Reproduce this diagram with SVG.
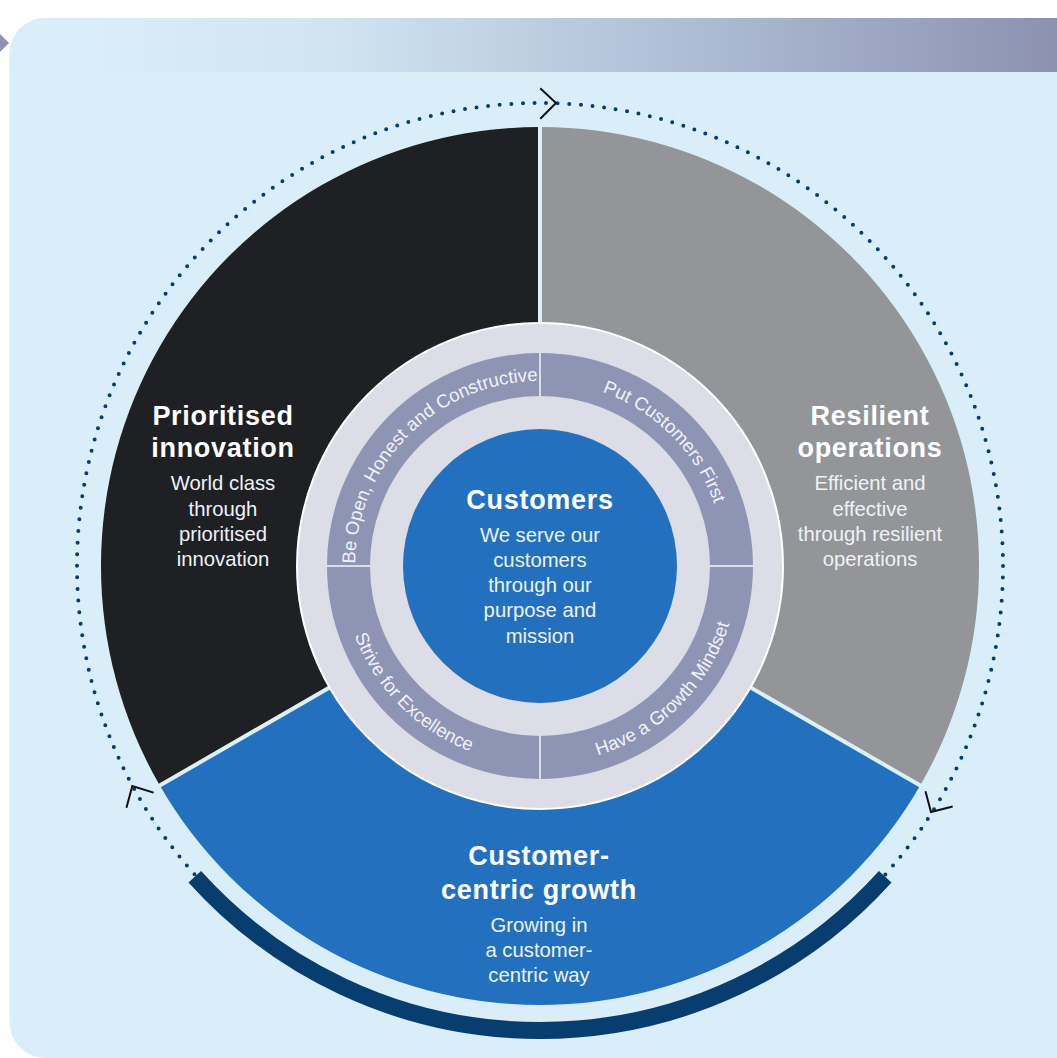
<svg xmlns="http://www.w3.org/2000/svg" width="1057" height="1058" viewBox="0 0 1057 1058">
  <defs>
    <linearGradient id="bandGrad" gradientUnits="userSpaceOnUse" x1="90" y1="0" x2="1057" y2="0">
      <stop offset="0" stop-color="#d9eef9"/>
      <stop offset="0.25" stop-color="#d0e4f1"/>
      <stop offset="0.6" stop-color="#b0bfd6"/>
      <stop offset="1" stop-color="#8c91b2"/>
    </linearGradient>
    <path id="arcTL" d="M355,566 A185,185 0 0 1 540,381"/>
    <path id="arcTR" d="M540,381 A185,185 0 0 1 725,566"/>
    <path id="arcBR" d="M540,764 A198,198 0 0 0 738,566"/>
    <path id="arcBL" d="M342,566 A198,198 0 0 0 540,764"/>
  </defs>
  <style>
    .head { font-family: "Liberation Sans", Arial, sans-serif; font-weight: bold; font-size: 27px; letter-spacing: 0.7px; fill: #ffffff; text-anchor: middle; }
    .sub { font-family: "Liberation Sans", Arial, sans-serif; font-size: 20.3px; fill: #eef2f7; text-anchor: middle; }
    .value { font-family: "Liberation Sans", Arial, sans-serif; font-size: 18.5px; fill: #f1f2f7; text-anchor: middle; }
    .sep { stroke: #dcf0fa; stroke-width: 4; }
    .div { stroke: #dcdde6; stroke-width: 2; }
    .chev { fill: none; stroke: #111111; stroke-width: 2; stroke-linecap: square; }
  </style>

  <!-- page background -->
  <rect x="0" y="0" width="1057" height="1058" fill="#ffffff"/>
  <rect x="9.5" y="18" width="1200" height="1040" rx="36" ry="36" fill="#d9eef9"/>
  <path d="M9.5,72 V54 A36,36 0 0 1 45.5,18 H1057 V72 Z" fill="url(#bandGrad)"/>
  <polygon points="0,34 9,43 0,52" fill="#8e92b3"/>

  <!-- outer cycle ring -->
  <g id="cycle">
    <circle cx="540" cy="566" r="463" fill="none" stroke="#063e73" stroke-width="4" stroke-linecap="round" stroke-dasharray="0 11.636"/>
    <path d="M885.2,876.8 A464.5,464.5 0 0 1 194.8,876.8" fill="none" stroke="#083d70" stroke-width="17"/>
  </g>

  <g id="connectors">
    <polyline class="chev" points="541,89 556,103 541,118"/>
    <polyline class="chev" points="152.7,792.3 132.3,786 126.7,806.7"/>
    <polyline class="chev" points="925.7,792.3 931,812 951.7,806.7"/>
  </g>

  <!-- three outer segments -->
  <g id="prioritised-innovation">
    <path d="M540,566 L540,127 A439,439 0 0 0 159.8,785.5 Z" fill="#1e2023"/>
    <text class="head" x="223" y="425">Prioritised</text>
    <text class="head" x="223" y="457">innovation</text>
    <text class="sub" x="223" y="490">World class</text>
    <text class="sub" x="223" y="515.5">through</text>
    <text class="sub" x="223" y="541">prioritised</text>
    <text class="sub" x="223" y="566">innovation</text>
  </g>

  <g id="resilient-operations">
    <path d="M540,566 L540,127 A439,439 0 0 1 920.2,785.5 Z" fill="#939598"/>
    <text class="head" x="870" y="425">Resilient</text>
    <text class="head" x="870" y="457">operations</text>
    <text class="sub" x="870" y="490">Efficient and</text>
    <text class="sub" x="870" y="515.5">effective</text>
    <text class="sub" x="870" y="541">through resilient</text>
    <text class="sub" x="870" y="566">operations</text>
  </g>

  <g id="customer-centric-growth">
    <path d="M540,566 L920.2,785.5 A439,439 0 0 1 159.8,785.5 Z" fill="#2371be"/>
    <text class="head" x="539" y="865">Customer-</text>
    <text class="head" x="539" y="899">centric growth</text>
    <text class="sub" x="539" y="932">Growing in</text>
    <text class="sub" x="539" y="957">a customer-</text>
    <text class="sub" x="539" y="982">centric way</text>
  </g>

  <g id="segment-separators">
    <line class="sep" x1="540" y1="566" x2="540" y2="125"/>
    <line class="sep" x1="540" y1="566" x2="158" y2="786.5"/>
    <line class="sep" x1="540" y1="566" x2="922" y2="786.5"/>
  </g>

  <!-- values ring -->
  <g id="values">
    <circle cx="540" cy="566" r="243" fill="#dcdde6" stroke="#ffffff" stroke-width="2"/>
    <circle cx="540" cy="566" r="191.5" fill="none" stroke="#8e94b4" stroke-width="43"/>
    <line class="div" x1="540" y1="352" x2="540" y2="397"/>
    <line class="div" x1="540" y1="735" x2="540" y2="780"/>
    <line class="div" x1="326" y1="566" x2="371" y2="566"/>
    <line class="div" x1="709" y1="566" x2="754" y2="566"/>
    <text class="value"><textPath href="#arcTL" startOffset="50%">Be Open, Honest and Constructive</textPath></text>
    <text class="value"><textPath href="#arcTR" startOffset="50%">Put Customers First</textPath></text>
    <text class="value"><textPath href="#arcBR" startOffset="50%">Have a Growth Mindset</textPath></text>
    <text class="value"><textPath href="#arcBL" startOffset="50%">Strive for Excellence</textPath></text>
  </g>

  <!-- centre -->
  <g id="customers">
    <circle cx="540" cy="566" r="137" fill="#2371be"/>
    <text class="head" x="540" y="509">Customers</text>
    <text class="sub" x="540" y="542">We serve our</text>
    <text class="sub" x="540" y="567">customers</text>
    <text class="sub" x="540" y="592">through our</text>
    <text class="sub" x="540" y="617">purpose and</text>
    <text class="sub" x="540" y="643">mission</text>
  </g>
</svg>
